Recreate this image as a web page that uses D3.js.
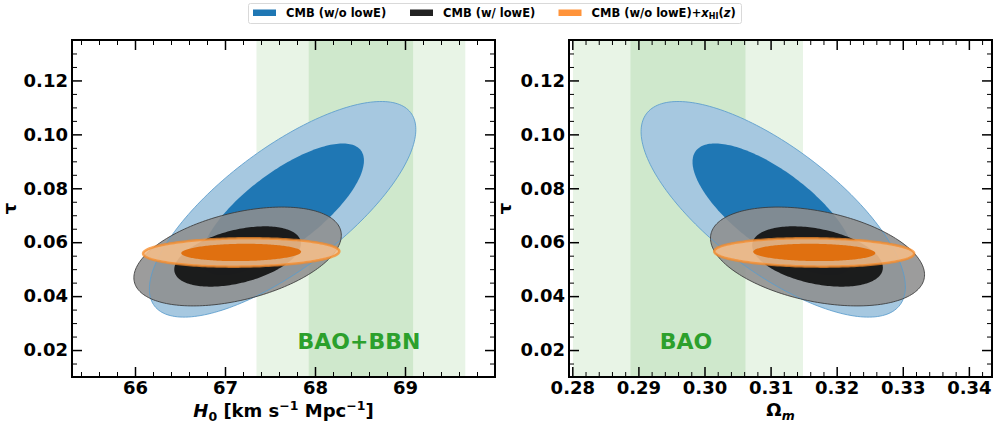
<!DOCTYPE html>
<html>
<head>
<meta charset="utf-8">
<script src="https://cdn.jsdelivr.net/npm/d3@7"></script>
<style>
  body { margin: 0; background: #fff; }
  svg { display: block; font-family: "DejaVu Sans", sans-serif; font-weight: bold; }
</style>
</head>
<body>
<div id="chart"></div>
<script>
// posterior summaries (mean, 1-sigma, correlation with tau)
var datasets = ["CMB (w/o lowE)", "CMB (w/ lowE)", "CMB (w/o lowE)+xHI(z)"];
var tauMean = [0.0722, 0.0547, 0.0562];
var tauSigma = [0.0161, 0.00738, 0.00212];
var h0Mean = [67.64, 67.14, 67.18];
var h0Sigma = [0.596, 0.464, 0.439];
var h0TauCorr = [0.74, 0.43, 0.08];
var omMean = [0.3104, 0.3171, 0.3166];
var omSigma = [0.00805, 0.00652, 0.00609];
var omTauCorr = [-0.72, -0.37, -0.08];

// external priors: [mean, sigma]
var baoBbnH0 = [68.51, 0.58];
var baoOm = [0.2975, 0.0087];

var tauTicks = [0.02, 0.04, 0.06, 0.08, 0.10, 0.12];
var h0Ticks = [66, 67, 68, 69];
var omTicks = [0.28, 0.29, 0.30, 0.31, 0.32, 0.33, 0.34];

var chart_width = 997;
var chart_height = 425;
var top_y = 40, bottom_y = 377;
var k68 = 2.30, k95 = 6.17;

var colors = [
    { outer: "#a6c8e0", outerOp: 1, inner: "#1f77b4", innerOp: 1, line: "#5a9ccc", lw: 1 },
    { outer: "#8e8e8e", outerOp: 0.88, inner: "#111111", innerOp: 0.92, line: "#3a3a3a", lw: 1 },
    { outer: "#f3bc8a", outerOp: 0.9, inner: "#e07010", innerOp: 1, line: "#f58b2a", lw: 2.5 }
];

var svg = d3.select('#chart')
    .append('svg')
    .attr('width', chart_width)
    .attr('height', chart_height);

var y = d3.scaleLinear().domain([0.01, 0.135]).range([bottom_y, top_y]);

var panels = [
    { id: 'h0', left: 72, right: 495, domain: [65.3, 70], ticks: h0Ticks, minor: 0.2,
      fmt: d3.format('d'), mean: h0Mean, sigma: h0Sigma, corr: h0TauCorr,
      prior: baoBbnH0, priorLabel: 'BAO+BBN', tauX: 15.5 },
    { id: 'om', left: 569, right: 992, domain: [0.2795, 0.3435], ticks: omTicks, minor: 0.002,
      fmt: d3.format('.2f'), mean: omMean, sigma: omSigma, corr: omTauCorr,
      prior: baoOm, priorLabel: 'BAO', tauX: 510.5 }
];

function minorTicks(domain, step, majors) {
    var lo = Math.ceil(domain[0] / step - 1e-9), hi = Math.floor(domain[1] / step + 1e-9);
    return d3.range(lo, hi + 1).map(function (i) { return +(i * step).toFixed(6); })
        .filter(function (v) { return !majors.some(function (m) { return Math.abs(m - v) < step / 10; }); });
}

function ellipse(mx, sx, my, sy, rho, k) {
    var r = Math.sqrt(k), s = Math.sqrt(1 - rho * rho);
    return d3.range(0, 200).map(function (i) {
        var t = i / 200 * 2 * Math.PI;
        return [mx + r * sx * Math.cos(t), my + r * sy * (rho * Math.cos(t) + s * Math.sin(t))];
    });
}

panels.forEach(function (p) {
    var x = d3.scaleLinear().domain(p.domain).range([p.left, p.right]);
    var g = svg.append('g');

    g.append('clipPath').attr('id', 'clip-' + p.id)
        .append('rect')
        .attr('x', p.left).attr('y', top_y)
        .attr('width', p.right - p.left).attr('height', bottom_y - top_y);

    var plot = g.append('g').attr('clip-path', 'url(#clip-' + p.id + ')');

    // prior bands (2 sigma light, 1 sigma darker)
    plot.append('rect')
        .attr('x', x(p.prior[0] - 2 * p.prior[1]))
        .attr('width', x(p.prior[0] + 2 * p.prior[1]) - x(p.prior[0] - 2 * p.prior[1]))
        .attr('y', top_y).attr('height', bottom_y - top_y)
        .attr('fill', '#e8f4e6');
    plot.append('rect')
        .attr('x', x(p.prior[0] - p.prior[1]))
        .attr('width', x(p.prior[0] + p.prior[1]) - x(p.prior[0] - p.prior[1]))
        .attr('y', top_y).attr('height', bottom_y - top_y)
        .attr('fill', '#cfe8cc');

    var line = d3.line()
        .x(function (d) { return x(d[0]); })
        .y(function (d) { return y(d[1]); })
        .curve(d3.curveLinearClosed);

    function contour(i, k) {
        return line(ellipse(p.mean[i], p.sigma[i], tauMean[i], tauSigma[i], p.corr[i], k));
    }

    // blue + grey fills
    [0, 1].forEach(function (i) {
        plot.append('path').attr('d', contour(i, k95))
            .attr('fill', colors[i].outer).attr('fill-opacity', colors[i].outerOp);
        plot.append('path').attr('d', contour(i, k68))
            .attr('fill', colors[i].inner).attr('fill-opacity', colors[i].innerOp);
    });
    // outlines
    [0, 1].forEach(function (i) {
        plot.append('path').attr('d', contour(i, k95))
            .attr('fill', 'none').attr('stroke', colors[i].line)
            .attr('stroke-width', colors[i].lw).attr('stroke-opacity', 0.85);
    });
    // orange on top
    plot.append('path').attr('d', contour(2, k95))
        .attr('fill', colors[2].outer).attr('fill-opacity', colors[2].outerOp)
        .attr('stroke', colors[2].line).attr('stroke-width', colors[2].lw)
        .attr('stroke-opacity', 0.75);
    plot.append('path').attr('d', contour(2, k68))
        .attr('fill', colors[2].inner).attr('fill-opacity', colors[2].innerOp);

    plot.append('text')
        .text(p.priorLabel)
        .attr('x', x(p.prior[0]) - 2)
        .attr('y', y(0.0203))
        .attr('text-anchor', 'middle')
        .attr('fill', '#2ca02c')
        .attr('font-size', 22);

    // axes, ticks pointing in on all four sides
    var minorX = minorTicks(p.domain, p.minor, p.ticks);
    var minorY = minorTicks(y.domain(), 0.005, tauTicks);

    function addAxis(axisFn, scale, pos, majors, minors, labels) {
        var tr = axisFn === d3.axisBottom || axisFn === d3.axisTop
            ? 'translate(0,' + pos + ')' : 'translate(' + pos + ',0)';
        var a = g.append('g').attr('transform', tr)
            .call(axisFn(scale).tickValues(majors).tickSize(-10).tickSizeOuter(0)
                .tickPadding(4)
                .tickFormat(labels ? labels : ''));
        a.select('.domain').remove();
        a.selectAll('line').attr('stroke', '#000').attr('stroke-width', 1.5);
        a.selectAll('text').attr('font-size', 18).attr('font-family', 'DejaVu Sans')
            .attr('font-weight', 'bold').attr('fill', '#000');
        var b = g.append('g').attr('transform', tr)
            .call(axisFn(scale).tickValues(minors).tickSize(-5).tickSizeOuter(0).tickFormat(''));
        b.select('.domain').remove();
        b.selectAll('line').attr('stroke', '#000').attr('stroke-width', 1);
    }

    addAxis(d3.axisBottom, x, bottom_y, p.ticks, minorX, p.fmt);
    addAxis(d3.axisTop, x, top_y, p.ticks, minorX, null);
    addAxis(d3.axisLeft, y, p.left, tauTicks, minorY, d3.format('.2f'));
    addAxis(d3.axisRight, y, p.right, tauTicks, minorY, null);

    g.append('rect')
        .attr('x', p.left).attr('y', top_y)
        .attr('width', p.right - p.left).attr('height', bottom_y - top_y)
        .attr('fill', 'none').attr('stroke', '#000').attr('stroke-width', 2);

    // y label
    g.append('text')
        .text('τ')
        .attr('transform', 'translate(' + p.tauX + ',' + ((top_y + bottom_y) / 2) + ') rotate(-90)')
        .attr('text-anchor', 'middle')
        .attr('font-size', 18);
});

// x labels
var cx1 = (panels[0].left + panels[0].right) / 2;
var xl1 = svg.append('text').attr('x', cx1).attr('y', 417)
    .attr('text-anchor', 'middle').attr('font-size', 18);
xl1.append('tspan').attr('font-style', 'italic').text('H');
xl1.append('tspan').attr('font-size', 12.5).attr('dy', 3.5).text('0');
xl1.append('tspan').attr('dy', -3.5).text(' [km s');
xl1.append('tspan').attr('font-size', 12.5).attr('dy', -7).text('−1');
xl1.append('tspan').attr('dy', 7).text(' Mpc');
xl1.append('tspan').attr('font-size', 12.5).attr('dy', -7).text('−1');
xl1.append('tspan').attr('dy', 7).text(']');

var cx2 = (panels[1].left + panels[1].right) / 2;
var xl2 = svg.append('text').attr('x', cx2).attr('y', 416)
    .attr('text-anchor', 'middle').attr('font-size', 18);
xl2.append('tspan').text('Ω');
xl2.append('tspan').attr('font-size', 12.5).attr('font-style', 'italic').attr('dy', 3.5).text('m');

// legend
var legend = svg.append('g');
legend.append('rect')
    .attr('x', 248.5).attr('y', 3.5).attr('width', 493).attr('height', 20)
    .attr('rx', 2).attr('fill', '#fff').attr('stroke', '#d9d9d9').attr('stroke-width', 1);

var legendX = [253, 410, 558.5];
var legendFill = ['#1f77b4', '#222222', '#ff933a'];
datasets.forEach(function (name, i) {
    legend.append('rect')
        .attr('x', legendX[i]).attr('y', 9.5).attr('width', 23).attr('height', 6.5)
        .attr('fill', legendFill[i]);
    var t = legend.append('text')
        .attr('x', legendX[i] + 33).attr('y', 17)
        .attr('font-size', 11.5);
    if (i < 2) {
        t.text(name);
    } else {
        t.append('tspan').text('CMB (w/o lowE)+');
        t.append('tspan').attr('font-style', 'italic').text('x');
        t.append('tspan').attr('font-size', 8).attr('dy', 2).text('HI');
        t.append('tspan').attr('dy', -2).text('(');
        t.append('tspan').attr('font-style', 'italic').text('z');
        t.append('tspan').text(')');
    }
});
</script>
</body>
</html>
